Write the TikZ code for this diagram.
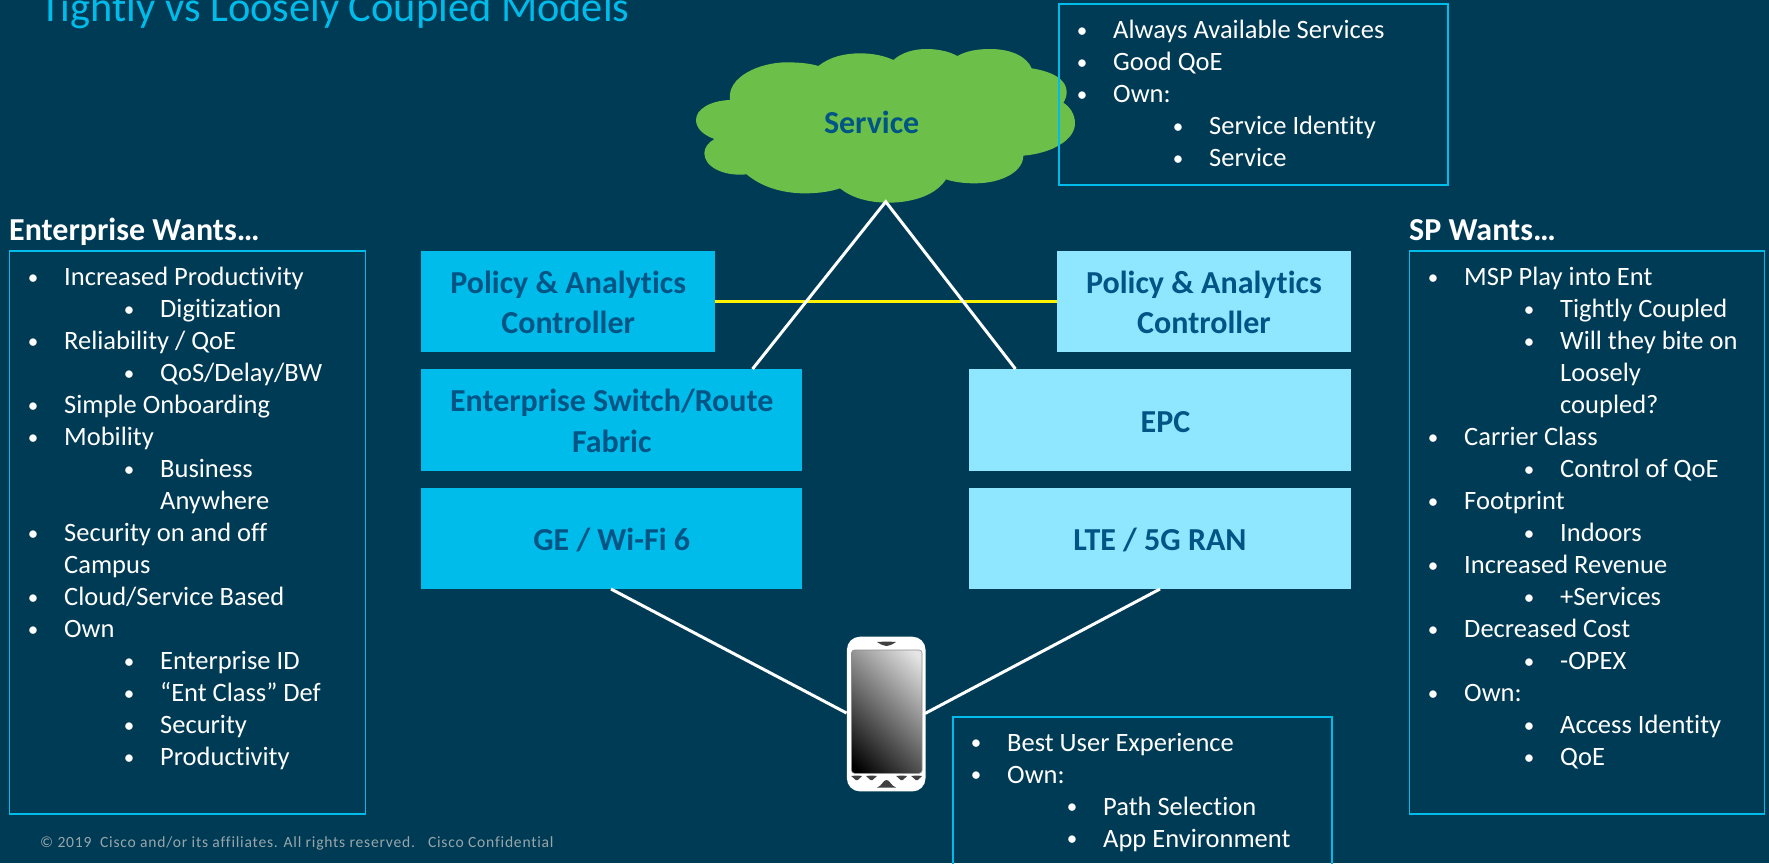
\documentclass[tikz,border=0pt]{standalone}
\usepackage{fontspec}
\setmainfont[Ligatures=NoCommon]{Carlito}
\newfontfamily\footfont[LetterSpace=5,Ligatures=NoCommon]{Carlito}
\definecolor{bgc}{HTML}{003B55}
\definecolor{cyanc}{HTML}{00BCEB}
\definecolor{lightc}{HTML}{8FE6FF}
\definecolor{labelc}{HTML}{005585}
\definecolor{greenc}{HTML}{6CC04A}
\definecolor{yellowc}{HTML}{FFF200}
\definecolor{footc}{HTML}{98A6AC}
\pgfdeclareverticalshading{screenshade}{100bp}{color(0bp)=(black); color(18bp)=(black); color(82bp)=(black!10); color(100bp)=(black!10)}
\newcommand\BU{\makebox[0pt][c]{\fontsize{21}{21}\selectfont\raisebox{1.5pt}{•}}}
\newcommand\LA[1]{\hbox{\hspace*{24pt}\BU\hspace*{31pt}#1}\\}
\newcommand\LB[1]{\hbox{\hspace*{120pt}\BU\hspace*{31pt}#1}\\}
\newcommand\LC[1]{\hbox{\hspace*{55pt}#1}\\}
\newcommand\LD[1]{\hbox{\hspace*{151pt}#1}\\}
\tikzset{
  listbox/.style={draw=cyanc,line width=#1,rectangle,inner sep=0pt,outer sep=0pt,anchor=north west},
  listbox/.default=1.2pt,
  listtext/.style={inner sep=0pt,anchor=north west,align=left,text=white,font=\fontsize{26.5}{32}\selectfont},
  blockA/.style={fill=cyanc,rectangle,inner sep=0pt,anchor=north west,text=labelc,align=center,font=\bfseries\fontsize{32}{40.6}\selectfont},
  blockB/.style={blockA,fill=lightc},
  blocktext/.style={inner sep=0pt,text=labelc,align=center,font=\bfseries\fontsize{32}{40.6}\selectfont},
  heading/.style={inner sep=0pt,anchor=base west,text=white,font=\bfseries\fontsize{32}{32}\selectfont},
  wire/.style={draw=white,line width=3pt},
  phonemark/.style={fill=black!75}
}
\begin{document}
\begin{tikzpicture}[x=1pt,y=-1pt]
\fill[bgc] (0,0) rectangle (1769,863);
\useasboundingbox (0,0) rectangle (1769,863);
\clip (0,0) rectangle (1769,863);
% title
\node[inner sep=0pt,anchor=base west,text=cyanc,font=\fontsize{42.4}{48}\selectfont] (title) at (40,21) {Tightly vs Loosely Coupled Models};
% connector anchors
\coordinate (apex) at (885.7,201.7);
\coordinate (entTop) at (752.5,369);
\coordinate (epcTop) at (1015.5,369);
\coordinate (geBot) at (611,589);
\coordinate (lteBot) at (1160,589);
\coordinate (phoneL) at (846.5,713);
\coordinate (phoneR) at (925,713.5);
% cloud
\begin{scope}[shift={(680,30)},x=0.33333pt,y=-0.33333pt]
\fill[greenc] (150,210)
 .. controls (140,140) and (240,97) .. (320,97)
 .. controls (355,97) and (390,100) .. (415,108)
 .. controls (450,80) and (495,70) .. (540,70)
 .. controls (580,70) and (615,78) .. (640,90)
 .. controls (665,68) and (700,57) .. (740,57)
 .. controls (775,57) and (810,65) .. (832,78)
 .. controls (860,62) and (895,57) .. (930,57)
 .. controls (995,57) and (1040,80) .. (1055,115)
 .. controls (1120,125) and (1160,150) .. (1160,185)
 .. controls (1160,197) and (1157,208) .. (1150,218)
 .. controls (1172,232) and (1185,255) .. (1185,280)
 .. controls (1185,330) and (1115,370) .. (1030,377)
 .. controls (1030,425) and (965,460) .. (885,460)
 .. controls (850,460) and (822,456) .. (798,448)
 .. controls (770,492) and (705,518) .. (625,518)
 .. controls (560,518) and (510,500) .. (480,475)
 .. controls (450,485) and (415,490) .. (375,490)
 .. controls (300,490) and (240,467) .. (200,433)
 .. controls (130,440) and (73,410) .. (73,370)
 .. controls (73,352) and (85,338) .. (103,327)
 .. controls (70,315) and (48,295) .. (48,270)
 .. controls (48,238) and (90,212) .. (150,210) -- cycle;
\end{scope}
\node[blocktext] (service) at (871.7,122.5) {Service};
% blocks
\node[blockA,minimum width=294pt,minimum height=101.5pt] (polL) at (421,250.5) {};
\node[blockB,minimum width=293.5pt,minimum height=101.5pt] (polR) at (1057,250.5) {};
\node[blockA,minimum width=381pt,minimum height=101.5pt] (ent) at (421,369) {};
\node[blockB,minimum width=381.5pt,minimum height=101.5pt] (epc) at (969,369) {};
\node[blockA,minimum width=381pt,minimum height=101.5pt] (ge) at (421,487.5) {};
\node[blockB,minimum width=381.5pt,minimum height=101.5pt] (lte) at (969,487.5) {};
\node[blocktext] (polLt) at ([yshift=-1pt]polL.center) {Policy \& Analytics\\Controller};
\node[blocktext] (polRt) at ([yshift=-1pt]polR.center) {Policy \& Analytics\\Controller};
\node[blocktext] (entt) at ([yshift=-1pt]ent.center) {Enterprise Switch/Route\\Fabric};
\node[blocktext] (epct) at ([xshift=5.5pt,yshift=-2pt]epc.center) {EPC};
\node[blocktext] (get) at ([yshift=-2pt]ge.center) {GE / Wi-Fi 6};
\node[blocktext] (ltet) at ([yshift=-2pt]lte.center) {LTE / 5G RAN};
% connectors
\draw[yellowc,line width=3pt] (polL.east |- 0,301) -- (polR.west |- 0,301);
\draw[wire] (entTop) -- (apex) -- (epcTop);
\draw[wire] (geBot) -- (phoneL);
\draw[wire] (lteBot) -- (phoneR);
% phone
\node[fill=white,rectangle,rounded corners=13pt,inner sep=0pt,minimum width=78.6pt,minimum height=154.7pt,anchor=north west] (phone) at (846.7,636.5) {};
\shade[rounded corners=3pt,shading=screenshade,shading angle=-45,draw=black!45,line width=0.6pt] (851.5,650) rectangle (922,773.3);
\fill[phonemark] (877,642) .. controls (885,641.5) and (889,641.5) .. (896,642) .. controls (892,644.5) and (889,646) .. (886.5,646) .. controls (884,646) and (881,644.5) .. (877,642) -- cycle;
\foreach \mx in {856.7,871.5,901.7,916.7}{
  \fill[phonemark] (\mx-5.5,776) .. controls (\mx-2,775.5) and (\mx+2,775.5) .. (\mx+5.5,776) -- (\mx+1,780) -- (\mx-1,780) -- cycle;
}
\fill[phonemark] (877,787.5) .. controls (882,786) and (883,780) .. (886.5,780) .. controls (890,780) and (891,786) .. (896,787.5) -- cycle;
% headings
\node[heading] (entHead) at (9,240) {Enterprise Wants…};
\node[heading] (spHead) at (1409,240) {SP Wants…};
% list boxes
\node[listbox,minimum width=356pt,minimum height=563pt] (lbox) at (9.3,251) {};
\node[listbox,minimum width=355pt,minimum height=563pt] (rbox) at (1409.6,251) {};
\node[listbox=2pt,minimum width=389pt,minimum height=181pt] (tbox) at (1058.6,3.5) {};
\node[listbox=2pt,minimum width=379pt,minimum height=170pt] (bbox) at (952.6,716.5) {};
% list texts
\node[listtext] (ltext) at (9,267) {\LA{Increased Productivity}\LB{Digitization}\LA{Reliability / QoE}\LB{QoS/Delay/BW}\LA{Simple Onboarding}\LA{Mobility}\LB{Business}\LD{Anywhere}\LA{Security on and off}\LC{Campus}\LA{Cloud/Service Based}\LA{Own}\LB{Enterprise ID}\LB{“Ent Class” Def}\LB{Security}\LB{Productivity}};
\node[listtext] (rtext) at (1409,267) {\LA{MSP Play into Ent}\LB{Tightly Coupled}\LB{Will they bite on}\LD{Loosely}\LD{coupled?}\LA{Carrier Class}\LB{Control of QoE}\LA{Footprint}\LB{Indoors}\LA{Increased Revenue}\LB{+Services}\LA{Decreased Cost}\LB{-OPEX}\LA{Own:}\LB{Access Identity}\LB{QoE}};
\node[listtext] (ttext) at (1058,20) {\LA{Always Available Services}\LA{Good QoE}\LA{Own:}\LB{Service Identity}\LB{Service}};
\node[listtext] (btext) at (952,733) {\LA{Best User Experience}\LA{Own:}\LB{Path Selection}\LB{App Environment}};
% footer
\node[inner sep=0pt,anchor=base west,text=footc,font=\footfont\fontsize{15.6}{16}\selectfont] (foot) at (40,847.5) {© 2019\ \ Cisco and/or its affiliates. All rights reserved.\ \ \ Cisco Confidential};
\end{tikzpicture}
\end{document}
